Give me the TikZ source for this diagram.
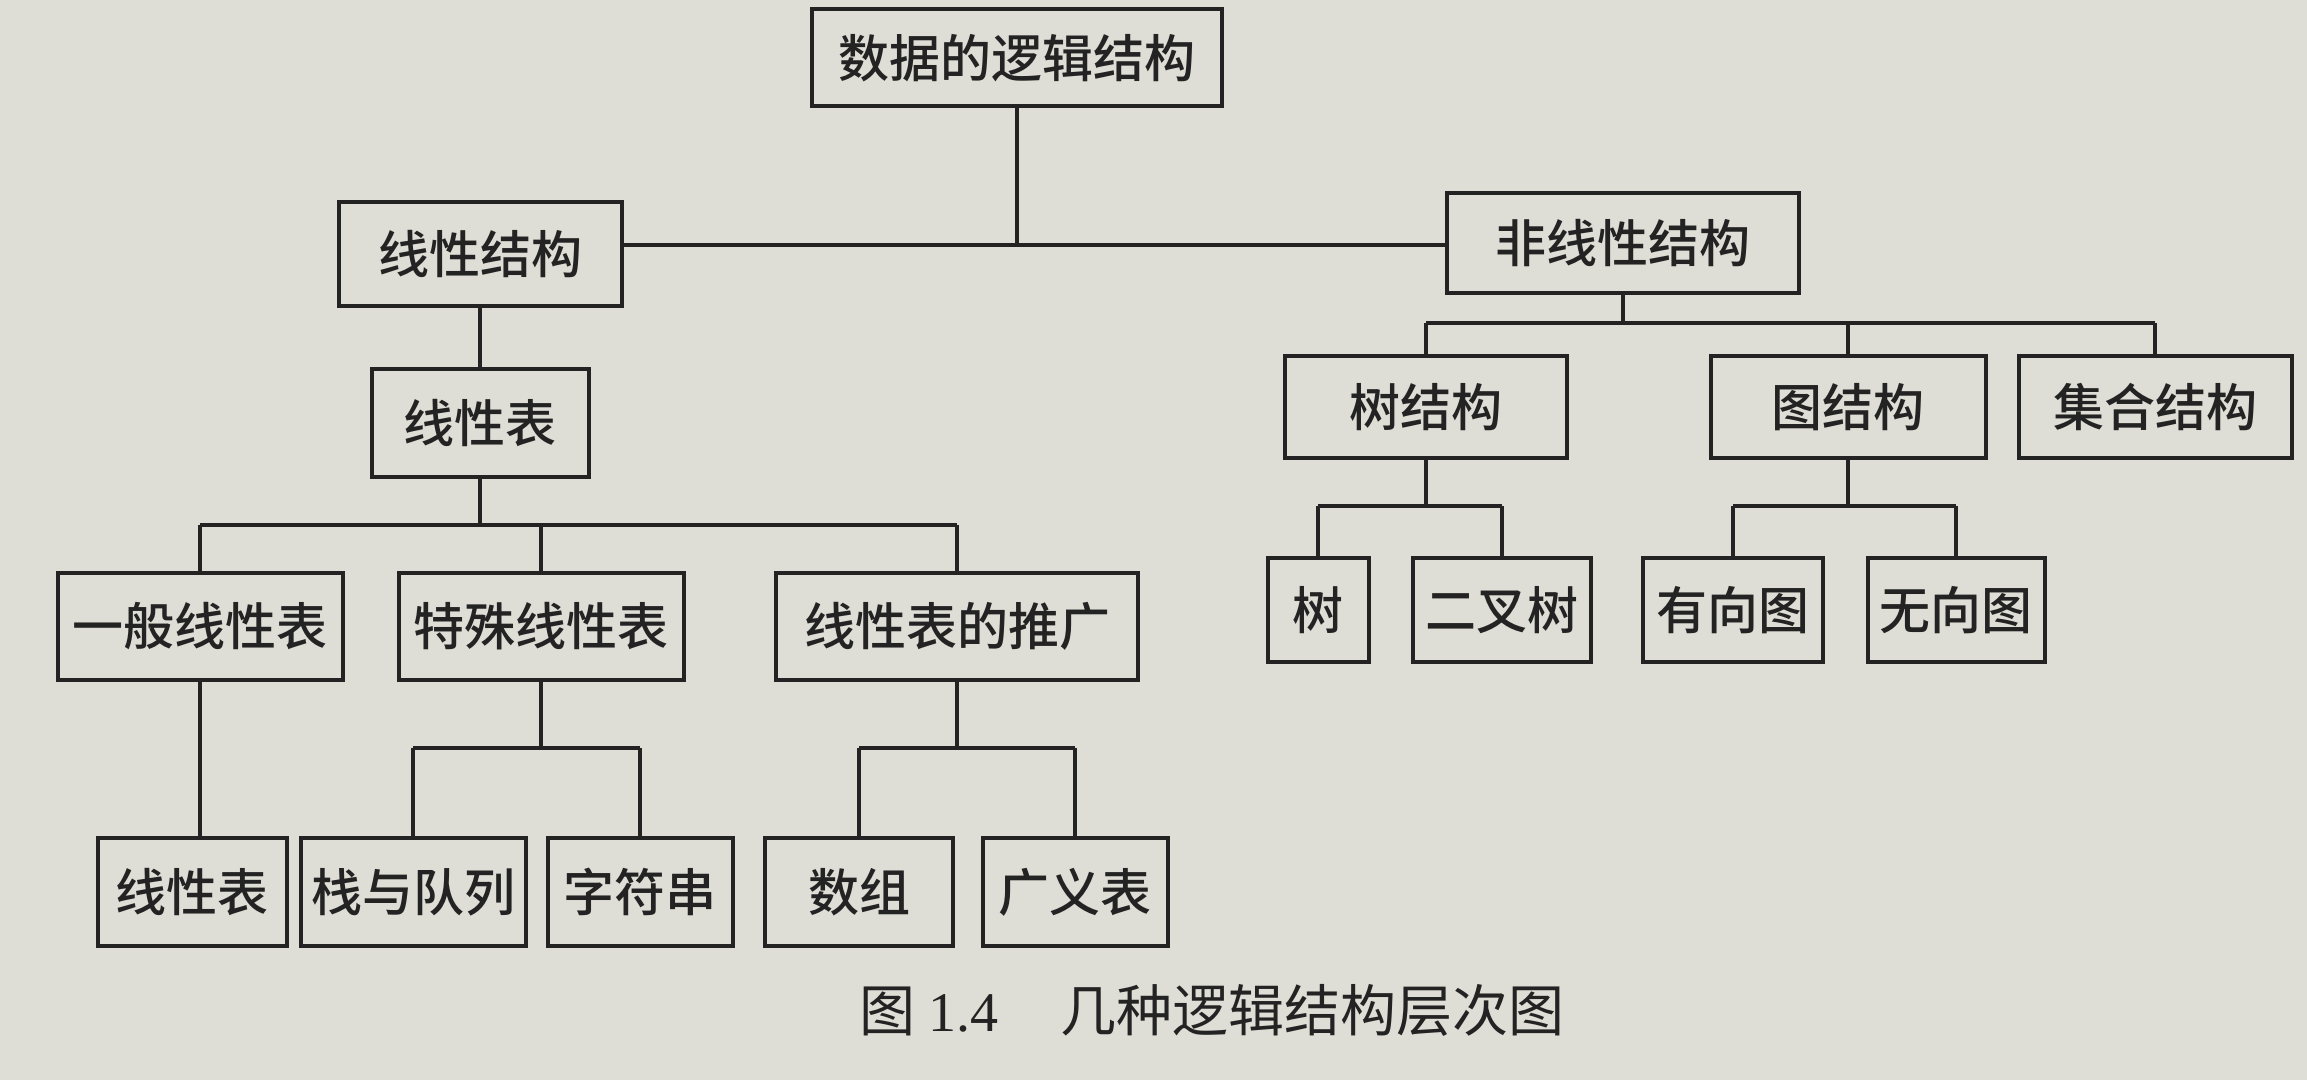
\documentclass[tikz,border=0pt]{standalone}
\usepackage{fontspec}
\newfontfamily\cjk{Noto Sans CJK SC Medium}
\newfontfamily\cjkc{Noto Sans CJK SC}
\newfontfamily\lat{Liberation Serif}
\definecolor{paper}{RGB}{222,222,214}
\definecolor{ink}{RGB}{35,35,35}
\begin{document}
\begin{tikzpicture}[x=0.5pt,y=-0.5pt,
  box/.style={draw=ink, line width=2pt, fill=paper, inner sep=0pt,
    text=ink, font=\cjk\fontsize{25.5pt}{28pt}\selectfont},
  conn/.style={draw=ink, line width=1.6pt},
  capt/.style={text=ink, inner sep=0pt, font=\cjkc\fontsize{28pt}{32pt}\selectfont}]
\fill[paper] (0,0) rectangle (2307,1080);
\useasboundingbox (0,0) rectangle (2307,1080);
% level 0
\node[box, minimum width=205pt, minimum height=48.5pt] (root) at (1017,58) {数据的逻辑结构};
% level 1
\node[box, minimum width=141.5pt, minimum height=52pt] (ls) at (480,254) {线性结构};
\node[box, minimum width=176pt, minimum height=50pt] (nls) at (1623,243) {非线性结构};
% level 2
\node[box, minimum width=108.5pt, minimum height=53.5pt] (ll) at (480,423) {线性表};
\node[box, minimum width=141pt, minimum height=50.5pt] (ts) at (1426,407) {树结构};
\node[box, minimum width=137.5pt, minimum height=50.5pt] (gs) at (1848,407) {图结构};
\node[box, minimum width=136.5pt, minimum height=50.5pt] (js) at (2155,407) {集合结构};
% level 3 left
\node[box, minimum width=142.5pt, minimum height=53.5pt] (g) at (200,626) {一般线性表};
\node[box, minimum width=142.5pt, minimum height=53.5pt] (t) at (541,626) {特殊线性表};
\node[box, minimum width=181pt, minimum height=53.5pt] (p) at (957,626) {线性表的推广};
% level 3 right
\node[box, minimum width=50.5pt, minimum height=52pt] (shu) at (1318,610) {树};
\node[box, minimum width=89pt, minimum height=52pt] (ecs) at (1502,610) {二叉树};
\node[box, minimum width=90pt, minimum height=52pt] (yxt) at (1733,610) {有向图};
\node[box, minimum width=88.5pt, minimum height=52pt] (wxt) at (1956,610) {无向图};
% level 4
\node[box, minimum width=94.5pt, minimum height=54pt] (xb) at (192,892) {线性表};
\node[box, minimum width=112.5pt, minimum height=54pt] (zd) at (413,892) {栈与队列};
\node[box, minimum width=92.5pt, minimum height=54pt] (zf) at (640,892) {字符串};
\node[box, minimum width=94pt, minimum height=54pt] (sz) at (859,892) {数组};
\node[box, minimum width=92.5pt, minimum height=54pt] (gy) at (1075,892) {广义表};
% junctions
\coordinate (j1) at (1017,245);
\coordinate (j2) at (1623,323);
\coordinate (j3) at (480,525);
\coordinate (j4) at (1426,506);
\coordinate (j5) at (1848,506);
\coordinate (j6) at (541,748);
\coordinate (j7) at (957,748);
% connectors
\draw[conn] (root.south) -- (j1);
\draw[conn] (ls.east |- j1) -- (nls.west |- j1);
\draw[conn] (ls.south) -- (ll.north);
\draw[conn] (nls.south) -- (j2);
\draw[conn] (ts.north |- j2) -- (js.north |- j2);
\foreach \n in {ts,gs,js} \draw[conn] (\n.north |- j2) -- (\n.north);
\draw[conn] (ll.south) -- (j3);
\draw[conn] (g.north |- j3) -- (p.north |- j3);
\foreach \n in {g,t,p} \draw[conn] (\n.north |- j3) -- (\n.north);
\draw[conn] (ts.south) -- (j4);
\draw[conn] (shu.north |- j4) -- (ecs.north |- j4);
\foreach \n in {shu,ecs} \draw[conn] (\n.north |- j4) -- (\n.north);
\draw[conn] (gs.south) -- (j5);
\draw[conn] (yxt.north |- j5) -- (wxt.north |- j5);
\foreach \n in {yxt,wxt} \draw[conn] (\n.north |- j5) -- (\n.north);
\draw[conn] (g.south) -- (g.south |- xb.north);
\draw[conn] (t.south) -- (j6);
\draw[conn] (zd.north |- j6) -- (zf.north |- j6);
\foreach \n in {zd,zf} \draw[conn] (\n.north |- j6) -- (\n.north);
\draw[conn] (p.south) -- (j7);
\draw[conn] (sz.north |- j7) -- (gy.north |- j7);
\foreach \n in {sz,gy} \draw[conn] (\n.north |- j7) -- (\n.north);
% caption
\node[capt] (cap) at (1212,1010) {图 {\lat 1.4}\hspace{31pt}几种逻辑结构层次图};
\end{tikzpicture}
\end{document}
